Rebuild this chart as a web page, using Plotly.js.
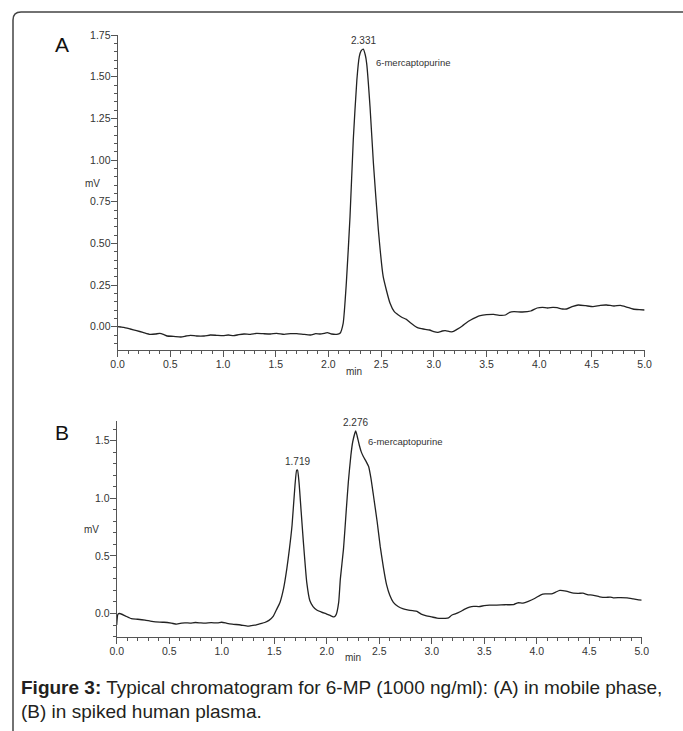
<!DOCTYPE html>
<html>
<head>
<meta charset="utf-8">
<script src="https://cdn.plot.ly/plotly-3.0.1.min.js"></script>
<style>html,body{margin:0;padding:0;background:#fff;}#chart{width:683px;height:731px;}</style>
</head>
<body>
<div id="chart"></div>
<script>
// Panel A: mobile phase
const timeA = [0.00,0.03,0.06,0.12,0.18,0.24,0.31,0.36,0.40,0.44,0.47,0.53,0.60,0.65,0.69,0.75,0.82,0.88,0.94,1.00,1.05,1.10,1.15,1.20,1.26,1.32,1.38,1.45,1.51,1.58,1.64,1.70,1.76,1.83,1.88,1.92,1.96,1.99,2.03,2.08,2.11,2.14,2.17,2.205,2.236,2.27,2.293,2.31,2.331,2.35,2.363,2.395,2.427,2.474,2.52,2.585,2.625,2.664,2.70,2.74,2.775,2.84,2.87,2.90,2.96,3.00,3.04,3.08,3.11,3.15,3.18,3.22,3.27,3.31,3.35,3.40,3.44,3.50,3.57,3.62,3.68,3.72,3.76,3.84,3.92,3.98,4.03,4.08,4.13,4.17,4.22,4.26,4.32,4.37,4.44,4.51,4.58,4.64,4.71,4.77,4.83,4.89,4.95,5.00];
const signalA = [0.000,-0.002,-0.004,-0.014,-0.024,-0.034,-0.046,-0.044,-0.040,-0.048,-0.056,-0.058,-0.062,-0.056,-0.052,-0.056,-0.056,-0.050,-0.052,-0.054,-0.050,-0.054,-0.048,-0.044,-0.046,-0.040,-0.042,-0.044,-0.040,-0.046,-0.042,-0.042,-0.046,-0.050,-0.042,-0.044,-0.040,-0.036,-0.044,-0.046,-0.040,0.020,0.260,0.660,1.120,1.480,1.620,1.655,1.665,1.630,1.580,1.320,0.980,0.580,0.300,0.140,0.090,0.070,0.055,0.044,0.025,-0.004,-0.010,-0.014,-0.020,-0.030,-0.034,-0.026,-0.024,-0.030,-0.030,-0.016,0.004,0.024,0.040,0.056,0.066,0.072,0.074,0.068,0.070,0.086,0.090,0.088,0.094,0.112,0.116,0.112,0.116,0.114,0.106,0.106,0.122,0.130,0.126,0.120,0.128,0.130,0.124,0.128,0.118,0.106,0.102,0.100];

// Panel B: spiked human plasma
const timeB = [0.00,0.012,0.03,0.08,0.14,0.20,0.27,0.32,0.37,0.45,0.52,0.57,0.62,0.65,0.70,0.75,0.80,0.84,0.90,0.96,1.00,1.05,1.10,1.18,1.25,1.28,1.33,1.38,1.41,1.45,1.49,1.52,1.555,1.59,1.62,1.645,1.67,1.698,1.714,1.722,1.736,1.757,1.778,1.81,1.84,1.87,1.905,1.95,2.00,2.04,2.07,2.09,2.114,2.13,2.16,2.185,2.206,2.23,2.248,2.276,2.29,2.31,2.33,2.35,2.375,2.40,2.42,2.445,2.48,2.51,2.54,2.57,2.60,2.635,2.68,2.73,2.78,2.82,2.86,2.90,2.95,3.00,3.05,3.09,3.13,3.16,3.19,3.23,3.27,3.31,3.36,3.40,3.45,3.50,3.55,3.62,3.70,3.78,3.82,3.87,3.92,3.98,4.04,4.08,4.14,4.18,4.22,4.28,4.35,4.40,4.44,4.49,4.53,4.60,4.66,4.70,4.73,4.80,4.86,4.92,4.97,5.00];
const signalB = [-0.100,-0.005,0.000,-0.020,-0.045,-0.050,-0.058,-0.066,-0.072,-0.076,-0.084,-0.092,-0.084,-0.081,-0.083,-0.078,-0.082,-0.084,-0.080,-0.082,-0.076,-0.085,-0.092,-0.100,-0.110,-0.105,-0.098,-0.086,-0.078,-0.060,-0.025,0.030,0.096,0.220,0.387,0.560,0.765,1.113,1.244,1.245,1.142,0.880,0.619,0.270,0.110,0.060,0.030,0.012,-0.005,-0.020,-0.030,-0.010,0.096,0.300,0.560,0.880,1.140,1.370,1.490,1.584,1.540,1.462,1.400,1.360,1.320,1.273,1.180,1.026,0.800,0.580,0.400,0.250,0.160,0.096,0.060,0.040,0.030,0.024,0.018,-0.005,-0.020,-0.030,-0.040,-0.043,-0.042,-0.038,-0.015,-0.002,0.015,0.035,0.055,0.062,0.060,0.068,0.072,0.073,0.076,0.077,0.093,0.090,0.105,0.130,0.162,0.170,0.170,0.185,0.200,0.194,0.176,0.175,0.176,0.162,0.160,0.145,0.140,0.142,0.136,0.138,0.136,0.126,0.118,0.116];

const xTicks = [0.0,0.5,1.0,1.5,2.0,2.5,3.0,3.5,4.0,4.5,5.0];
const yTicksA = [0.00,0.25,0.50,0.75,1.00,1.25,1.50,1.75];
const yTicksB = [0.0,0.5,1.0,1.5];
const peakLabelsA = [{t:2.331, v:1.665, label:"2.331"}];
const peakLabelsB = [{t:1.719, v:1.245, label:"1.719"}, {t:2.276, v:1.584, label:"2.276"}];
const compoundName = "6-mercaptopurine";
const captionBold = "Figure 3:";
const captionLine1 = " Typical chromatogram for 6-MP (1000 ng/ml): (A) in mobile phase,";
const captionLine2 = "(B) in spiked human plasma.";

const W = 683, H = 731;
const px = x => x / W;
const py = y => 1 - y / H;
const FONT = "Liberation Sans, Arial, Helvetica, sans-serif";
const tickFont = {family: FONT, size: 10.5, color: "#333"};
const lineStyle = {color: "#222", width: 1.3, shape: "spline", smoothing: 0.5};

function xAxis(domain, anchor) {
  return {
    domain: domain, anchor: anchor, range: [0, 5.0], showgrid: false, zeroline: false,
    showline: true, linecolor: "#555", linewidth: 1,
    ticks: "outside", ticklen: 6, tickcolor: "#555", tickwidth: 1,
    tickvals: xTicks, ticktext: xTicks.map(v => v.toFixed(1)),
    tickfont: tickFont, ticklabelstandoff: -2,
    minor: {dtick: 0.1, tick0: 0, ticks: "outside", ticklen: 3, tickcolor: "#555", tickwidth: 1, showgrid: false},
    fixedrange: true
  };
}
function yAxis(domain, anchor, range, ticks, dec, minorStep) {
  return {
    domain: domain, anchor: anchor, range: range, showgrid: false, zeroline: false,
    showline: true, linecolor: "#555", linewidth: 1,
    ticks: "outside", ticklen: 6, tickcolor: "#555", tickwidth: 1,
    tickvals: ticks, ticktext: ticks.map(v => v.toFixed(dec)),
    tickfont: tickFont, ticklabelstandoff: -2,
    minor: {dtick: minorStep, tick0: 0, ticks: "outside", ticklen: 3, tickcolor: "#555", tickwidth: 1, showgrid: false},
    fixedrange: true
  };
}

const traces = [
  {x: timeA, y: signalA, xaxis: "x", yaxis: "y", type: "scatter", mode: "lines", line: lineStyle, hoverinfo: "skip"},
  {x: timeB, y: signalB, xaxis: "x2", yaxis: "y2", type: "scatter", mode: "lines", line: lineStyle, hoverinfo: "skip"}
];

const labelFont = {family: FONT, size: 10, color: "#333"};
const annotations = [];
peakLabelsA.forEach(p => annotations.push({xref: "x", yref: "y", x: p.t, y: p.v, text: p.label, showarrow: false, yanchor: "bottom", yshift: 1, font: labelFont}));
peakLabelsB.forEach(p => annotations.push({xref: "x2", yref: "y2", x: p.t, y: p.v, text: p.label, showarrow: false, yanchor: "bottom", yshift: 1, font: labelFont}));
annotations.push({xref: "paper", yref: "paper", x: px(374), y: py(63), xanchor: "left", yanchor: "middle", text: compoundName, showarrow: false, font: {family: FONT, size: 9.5, color: "#333"}});
annotations.push({xref: "paper", yref: "paper", x: px(366), y: py(441.5), xanchor: "left", yanchor: "middle", text: compoundName, showarrow: false, font: {family: FONT, size: 9.5, color: "#333"}});
// Panel letters
annotations.push({xref: "paper", yref: "paper", x: px(62), y: py(45), xanchor: "center", yanchor: "middle", text: "A", showarrow: false, font: {family: FONT, size: 21, color: "#111"}});
annotations.push({xref: "paper", yref: "paper", x: px(62), y: py(432), xanchor: "center", yanchor: "middle", text: "B", showarrow: false, font: {family: FONT, size: 21, color: "#111"}});
// Axis titles
annotations.push({xref: "paper", yref: "paper", x: px(92), y: py(183), xanchor: "center", yanchor: "middle", text: "mV", showarrow: false, font: labelFont});
annotations.push({xref: "paper", yref: "paper", x: px(91.5), y: py(529), xanchor: "center", yanchor: "middle", text: "mV", showarrow: false, font: labelFont});
annotations.push({xref: "paper", yref: "paper", x: px(353.5), y: py(371), xanchor: "center", yanchor: "middle", text: "min", showarrow: false, font: labelFont});
annotations.push({xref: "paper", yref: "paper", x: px(352.5), y: py(657), xanchor: "center", yanchor: "middle", text: "min", showarrow: false, font: labelFont});
// Caption
const capFont = {family: FONT, size: 19, color: "#231f20"};
annotations.push({xref: "paper", yref: "paper", x: px(19), y: py(687), xanchor: "left", yanchor: "middle", align: "left", text: "<b>" + captionBold + "</b>" + captionLine1, showarrow: false, font: capFont});
annotations.push({xref: "paper", yref: "paper", x: px(19), y: py(711), xanchor: "left", yanchor: "middle", align: "left", text: captionLine2, showarrow: false, font: capFont});

// Rounded frame (only top and left visible)
const fx = px(13), fy = py(12), rx = 8 / W, ry = 8 / H;
const framePath = `M ${fx} ${-0.05} L ${fx} ${fy - ry} Q ${fx} ${fy} ${fx + rx} ${fy} L 1.05 ${fy}`;

const layout = {
  width: W, height: H,
  margin: {l: 0, r: 0, t: 0, b: 0, pad: 0},
  paper_bgcolor: "#fff", plot_bgcolor: "rgba(0,0,0,0)",
  showlegend: false,
  xaxis: xAxis([px(117.6), px(644.6)], "y"),
  yaxis: yAxis([py(350), py(35)], "x", [-0.14, 1.75], yTicksA, 2, 0.05),
  xaxis2: xAxis([px(116.7), px(641.7)], "y2"),
  yaxis2: yAxis([py(637), py(421)], "x2", [-0.204, 1.67], yTicksB, 1, 0.1),
  annotations: annotations,
  shapes: [{type: "path", xref: "paper", yref: "paper", path: framePath, line: {color: "#444", width: 1.5}, layer: "above"}]
};

Plotly.newPlot("chart", traces, layout, {staticPlot: true, displayModeBar: false});
</script>
</body>
</html>
